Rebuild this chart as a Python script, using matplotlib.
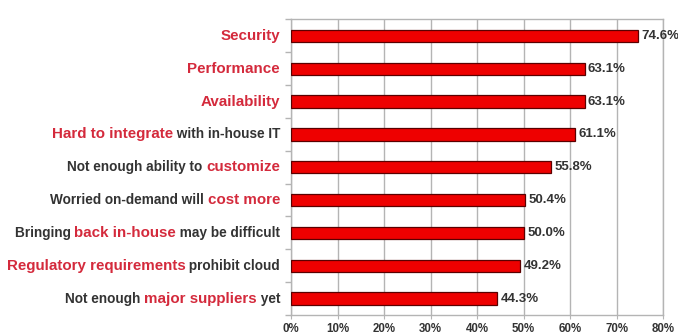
import matplotlib
matplotlib.use("Agg")
import matplotlib.pyplot as plt
from matplotlib.offsetbox import TextArea, HPacker, AnnotationBbox

plt.rcParams['font.family'] = ['Liberation Sans', 'DejaVu Sans']

# Each label is a list of (text, highlighted) parts
label_parts = [
    [("Security", True)],
    [("Performance", True)],
    [("Availability", True)],
    [("Hard to integrate", True), (" with in-house IT", False)],
    [("Not enough ability to ", False), ("customize", True)],
    [("Worried on-demand will ", False), ("cost more", True)],
    [("Bringing ", False), ("back in-house", True), (" may be difficult", False)],
    [("Regulatory requirements", True), (" prohibit cloud", False)],
    [("Not enough ", False), ("major suppliers", True), (" yet", False)],
]
values = [74.6, 63.1, 63.1, 61.1, 55.8, 50.4, 50.0, 49.2, 44.3]
value_labels = ["74.6%", "63.1%", "63.1%", "61.1%", "55.8%", "50.4%", "50.0%", "49.2%", "44.3%"]
x_ticks = [0, 10, 20, 30, 40, 50, 60, 70, 80]
x_ticklabels = ["0%", "10%", "20%", "30%", "40%", "50%", "60%", "70%", "80%"]

RED_TXT = "#d42a3c"
DARK_TXT = "#333333"
GRID = "#b4b4b4"

fig = plt.figure(figsize=(6.78, 3.36), dpi=100)
ax = fig.add_axes([0.4295, 0.0625, 0.5485, 0.8795])

n = len(values)
ypos = list(range(n))
ax.barh(ypos, values, height=0.38, color="#ee0000", edgecolor="#5a0000",
        linewidth=0.9, zorder=3)

ax.set_xlim(0, 80)
ax.set_ylim(n - 0.5, -0.5)
ax.set_xticks(x_ticks)
ax.set_xticklabels(x_ticklabels, fontsize=8.3, fontweight="bold", color=DARK_TXT)
ax.xaxis.grid(True, color=GRID, linewidth=1.0, zorder=0)
ax.tick_params(axis="x", length=3, color=GRID, pad=3)

ax.set_yticks([])
ax.set_yticks([i + 0.5 for i in range(-1, n)], minor=True)
ax.tick_params(axis="y", which="minor", length=4, color=GRID, width=1)
ax.set_yticklabels([], minor=True)

for s in ax.spines.values():
    s.set_color(GRID)
    s.set_linewidth(1.0)

for y, v, lab in zip(ypos, values, value_labels):
    ax.annotate(lab, (v, y), xytext=(2.5, 0), textcoords="offset points",
                ha="left", va="center", fontsize=9.5, fontweight="bold",
                color=DARK_TXT, zorder=4, annotation_clip=False)

for y, parts in zip(ypos, label_parts):
    areas = []
    for txt, hl in parts:
        areas.append(TextArea(txt, textprops=dict(
            color=RED_TXT if hl else DARK_TXT,
            fontsize=10.9 if hl else 9.8,
            fontweight="bold")))
    box = HPacker(children=areas, align="baseline", pad=0, sep=0)
    ab = AnnotationBbox(box, (0, y), xycoords=("axes fraction", "data"),
                        xybox=(-8, 0), boxcoords="offset points",
                        box_alignment=(1, 0.5), frameon=False,
                        annotation_clip=False)
    ax.add_artist(ab)

fig.savefig("out.png", dpi=100)
